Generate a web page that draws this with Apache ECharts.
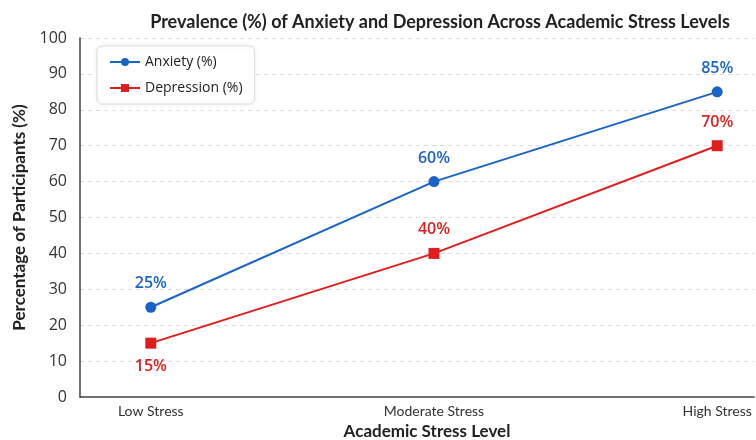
<!DOCTYPE html>
<html>
<head>
<meta charset="utf-8">
<script src="https://cdn.jsdelivr.net/npm/echarts@6/dist/echarts.min.js"></script>
<style>
  html, body { margin: 0; padding: 0; background: #ffffff; }
  #chart { width: 756px; height: 440px; }
</style>
</head>
<body>
<div id="chart"></div>
<script>
// Stress levels on the x axis (positions 0, 1, 2)
const categories = ['Low Stress', 'Moderate Stress', 'High Stress'];
const anxiety = [25, 60, 85];
const depression = [15, 40, 70];
const yTicks = [0, 10, 20, 30, 40, 50, 60, 70, 80, 90, 100];

const blue = '#1a64c8';
const red = '#e01e1e';

const chart = echarts.init(document.getElementById('chart'), null, { renderer: 'canvas' });

function points(values) {
  return values.map((v, i) => [i, v]);
}

chart.setOption({
  backgroundColor: '#ffffff',
  animation: false,
  title: {
    text: 'Prevalence (%) of Anxiety and Depression Across Academic Stress Levels',
    left: 435,
    textAlign: 'center',
    top: 8,
    textStyle: { fontFamily: 'Lato', fontWeight: 'bold', fontSize: 18, color: '#222' }
  },
  legend: {
    orient: 'vertical',
    left: 97,
    top: 46,
    padding: [9, 12, 9, 12],
    itemGap: 12,
    itemWidth: 30,
    itemHeight: 10,
    backgroundColor: '#ffffff',
    borderColor: '#dddddd',
    borderWidth: 1,
    borderRadius: 5,
    shadowColor: 'rgba(0,0,0,0.08)',
    shadowBlur: 4,
    textStyle: { fontFamily: 'Open Sans', fontSize: 14, color: '#222' },
    data: ['Anxiety (%)', 'Depression (%)']
  },
  grid: { left: 80, right: 2, top: 38, bottom: 43, containLabel: false, outerBoundsMode: 'none' },
  xAxis: {
    type: 'value',
    min: -0.25,
    max: 2.13,
    name: 'Academic Stress Level',
    nameLocation: 'middle',
    nameGap: 26,
    nameTextStyle: { fontFamily: 'Lato', fontWeight: 'bold', fontSize: 17, color: '#222', padding: [0, 0, 0, 20] },
    axisLine: { show: true, onZero: false, lineStyle: { color: '#444', width: 1.5 } },
    axisTick: { show: false },
    splitLine: { show: false },
    axisLabel: {
      customValues: [0, 1, 2],
      margin: 7,
      fontFamily: 'Lato',
      fontSize: 14,
      color: '#333',
      formatter: v => categories[Math.round(v)]
    }
  },
  yAxis: {
    type: 'value',
    min: yTicks[0],
    max: yTicks[yTicks.length - 1],
    interval: yTicks[1] - yTicks[0],
    name: 'Percentage of Participants (%)',
    nameLocation: 'middle',
    nameGap: 52,
    nameRotate: 90,
    nameTextStyle: { fontFamily: 'Lato', fontWeight: 'bold', fontSize: 17, color: '#222' },
    axisLine: { show: true, onZero: false, lineStyle: { color: '#444', width: 1.5 } },
    axisTick: { show: false },
    axisLabel: { margin: 13, fontFamily: 'Open Sans', fontSize: 16, color: '#333' },
    splitLine: { show: true, lineStyle: { color: '#dcdcdc', type: [4, 4], width: 1 } }
  },
  series: [
    {
      name: 'Anxiety (%)',
      type: 'line',
      data: points(anxiety),
      symbol: 'circle',
      symbolSize: 11,
      lineStyle: { color: blue, width: 2 },
      itemStyle: { color: blue },
      label: {
        show: true,
        position: 'top',
        distance: 10,
        formatter: p => p.value[1] + '%',
        fontFamily: 'Open Sans',
        fontWeight: 600,
        fontSize: 16,
        color: blue
      }
    },
    {
      name: 'Depression (%)',
      type: 'line',
      data: points(depression).map((pt, i) => ({
        value: pt,
        label: { position: i === 0 ? 'bottom' : 'top' }
      })),
      symbol: 'rect',
      symbolSize: 11,
      lineStyle: { color: red, width: 2 },
      itemStyle: { color: red },
      label: {
        show: true,
        distance: 10,
        formatter: p => p.value[1] + '%',
        fontFamily: 'Open Sans',
        fontWeight: 600,
        fontSize: 16,
        color: red
      }
    }
  ]
});
</script>
</body>
</html>
